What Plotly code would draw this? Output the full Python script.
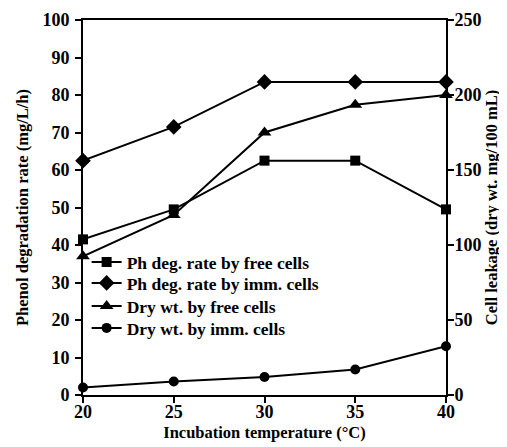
import plotly.graph_objects as go

temps = [20, 25, 30, 35, 40]
ph_free = [41.5, 49.5, 62.5, 62.5, 49.5]
ph_imm = [62.5, 71.5, 83.5, 83.5, 83.5]
dry_free = [92.5, 120, 175, 193.5, 200]
dry_imm = [5, 9, 12, 17, 32.5]

series_names = ["Ph deg. rate by free cells", "Ph deg. rate by imm. cells",
                "Dry wt. by free cells", "Dry wt. by imm. cells"]

x_ticks = [20, 25, 30, 35, 40]
y1_ticks = [0, 10, 20, 30, 40, 50, 60, 70, 80, 90, 100]
y2_ticks = [0, 50, 100, 150, 200, 250]

font = "Liberation Serif, Times New Roman, serif"
line = dict(color="black", width=2)

fig = go.Figure()
fig.add_trace(go.Scatter(x=temps, y=ph_free, mode="lines+markers", name=series_names[0], legend="legend",
                         line=line, marker=dict(symbol="square", size=10, color="black"), cliponaxis=False))
fig.add_trace(go.Scatter(x=temps, y=ph_imm, mode="lines+markers", name=series_names[1], legend="legend2",
                         line=line, marker=dict(symbol="diamond", size=12, color="black"), cliponaxis=False))
fig.add_trace(go.Scatter(x=temps, y=dry_free, mode="lines+markers", name=series_names[2], yaxis="y2",
                         legend="legend3",
                         line=line, marker=dict(symbol="triangle-up", size=12, color="black"), cliponaxis=False))
fig.add_trace(go.Scatter(x=temps, y=dry_imm, mode="lines+markers", name=series_names[3], yaxis="y2",
                         legend="legend4",
                         line=line, marker=dict(symbol="circle", size=10, color="black"), cliponaxis=False))

tick_font = dict(family=font, size=18, color="black", weight="bold")
title_font = dict(family=font, size=16.5, color="black", weight="bold")
leg_font = dict(family=font, size=17.5, color="black", weight="bold")

axis_common = dict(showline=True, linecolor="black", linewidth=2, ticks="outside", ticklen=6,
                   tickwidth=2, tickcolor="black", showgrid=False, zeroline=False,
                   tickfont=tick_font, automargin=False)

def leg(y):
    return dict(x=0.01, y=y, xanchor="left", yanchor="middle", bgcolor="rgba(0,0,0,0)",
                font=leg_font, itemwidth=30, borderwidth=0)

fig.update_layout(
    width=507, height=447,
    margin=dict(l=75, r=69, t=12, b=60),
    paper_bgcolor="white", plot_bgcolor="white",
    font=dict(family=font, color="black"),
    showlegend=True,
    legend=leg((387 - 254) / 375),
    legend2=leg((387 - 275) / 375),
    legend3=leg((387 - 298) / 375),
    legend4=leg((387 - 320) / 375),
    xaxis=dict(range=[20, 40], tickvals=x_ticks, mirror=True, ticklabelstandoff=-7,
               title=dict(text="Incubation temperature (°C)", font=title_font, standoff=6),
               **axis_common),
    yaxis=dict(range=[0, 100], tickvals=y1_ticks, ticklabelstandoff=2,
               title=dict(text="Phenol degradation rate (mg/L/h)", font=title_font, standoff=10),
               **axis_common),
    yaxis2=dict(range=[0, 250], tickvals=y2_ticks, overlaying="y", side="right", ticklabelstandoff=-3,
                title=dict(text="Cell leakage (dry wt. mg/100 mL)", font=title_font, standoff=4),
                **axis_common),
)

fig.write_html("out.html")
